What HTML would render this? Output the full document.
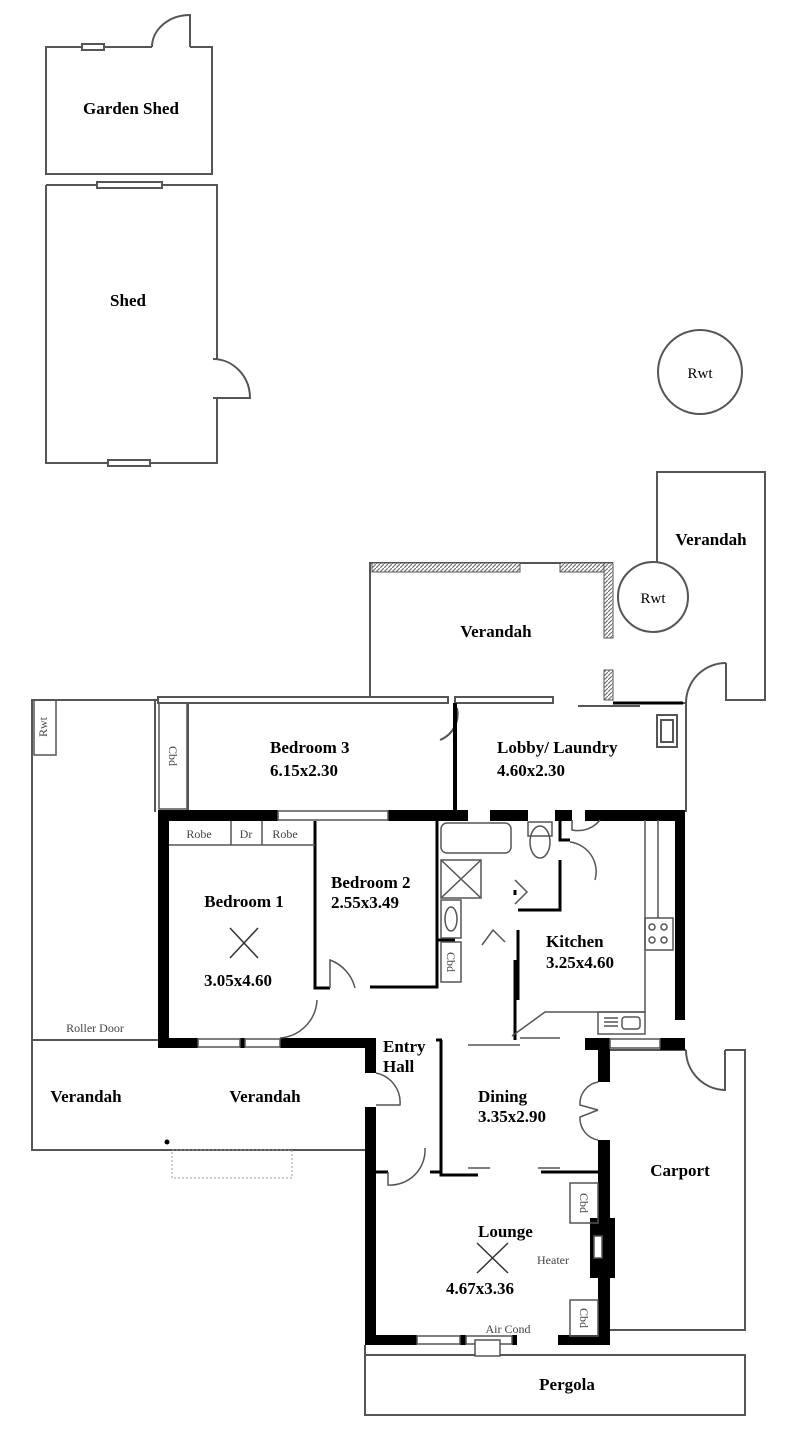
<!DOCTYPE html>
<html><head><meta charset="utf-8"><style>
html,body{margin:0;padding:0;background:#fff;}
svg{display:block}
text{font-family:"Liberation Serif",serif;font-weight:bold;fill:#000;}
.s{font-weight:normal;fill:#444;font-size:12px}
</style></head><body>
<svg width="800" height="1440" viewBox="0 0 800 1440" xmlns="http://www.w3.org/2000/svg">
<defs>
<pattern id="h" width="4" height="4" patternUnits="userSpaceOnUse"><rect width="4" height="4" fill="#fff"/><path d="M0 4L4 0" stroke="#777" stroke-width="1.2"/></pattern>
</defs>
<g fill="none" stroke="#555" stroke-width="2">
<path d="M152 47H46V174H212V47H190"/>
<path d="M190 47V15A38 32 0 0 0 152 47"/>
<rect x="82" y="44" width="22" height="6" fill="#fff"/>
<path d="M46 185H217V359M217 398V463H46V185"/>
<path d="M213 359A37 39 0 0 1 250 398H213"/>
<rect x="97" y="182" width="65" height="6" fill="#fff"/>
<rect x="108" y="460" width="42" height="6" fill="#fff"/>
<circle cx="700" cy="372" r="42"/>
<path d="M370 700V563H613"/>
<path d="M657 563V472H765V700H726V663"/>
<circle cx="653" cy="597" r="35"/>
<path d="M726 663A40 40 0 0 0 686 703V812"/>
<path d="M158 700H32V1150H158"/>
<path d="M32 1040H158"/>
<path d="M158 1150H365"/>
<path d="M610 1050H686M725 1050H745V1330H610"/>
<path d="M686 1050A40 40 0 0 0 725 1090V1050"/>
<rect x="365" y="1355" width="380" height="60"/>
<path d="M365 1345V1355"/>
</g>
<rect x="372" y="563" width="148" height="9" fill="url(#h)" stroke="#555"/>
<rect x="560" y="563" width="53" height="9" fill="url(#h)" stroke="#555"/>
<rect x="604" y="563" width="9" height="75" fill="url(#h)" stroke="#555"/>
<rect x="604" y="670" width="9" height="30" fill="url(#h)" stroke="#555"/>
<rect x="172" y="1150" width="120" height="28" fill="none" stroke="#999" stroke-dasharray="2 2"/>
<circle cx="167" cy="1142" r="2.5" fill="#000"/>
<g fill="none" stroke="#555" stroke-width="2">
<path d="M155 700V812M155 700H445M455 700H545M578 706H640"/>
<rect x="158" y="697" width="290" height="6" fill="#fff"/>
<rect x="455" y="697" width="98" height="6" fill="#fff"/>
<path d="M188 703V812"/>
<path d="M613 703H686"/>
<path d="M457 708A28 28 0 0 1 440 740"/>
<rect x="657" y="715" width="20" height="32"/>
<rect x="661" y="720" width="12" height="22"/>
</g>
<path d="M455 703V812" stroke="#000" stroke-width="4"/>
<path d="M613 703H683" stroke="#000" stroke-width="3"/>
<g fill="#000">
<rect x="158" y="810" width="120" height="11"/>
<rect x="388" y="810" width="80" height="11"/>
<rect x="490" y="810" width="38" height="11"/>
<rect x="555" y="810" width="17" height="11"/>
<rect x="585" y="810" width="100" height="11"/>
<rect x="158" y="810" width="11" height="238"/>
<rect x="675" y="810" width="10" height="210"/>
<rect x="158" y="1038" width="40" height="10"/>
<rect x="280" y="1038" width="85" height="10"/>
<rect x="240" y="1038" width="5" height="10"/>
<rect x="365" y="1038" width="11" height="35"/>
<rect x="365" y="1107" width="11" height="238"/>
<rect x="365" y="1335" width="52" height="10"/>
<rect x="460" y="1335" width="6" height="10"/>
<rect x="512" y="1335" width="5" height="10"/>
<rect x="558" y="1335" width="52" height="10"/>
<rect x="598" y="1040" width="12" height="42"/>
<rect x="598" y="1140" width="12" height="205"/>
<rect x="590" y="1218" width="25" height="60"/>
<rect x="660" y="1038" width="25" height="12"/>
<rect x="585" y="1038" width="25" height="12"/>
</g>
<g fill="none" stroke="#555" stroke-width="1.5">
<rect x="417" y="1336" width="43" height="8"/><rect x="466" y="1336" width="46" height="8"/>
<rect x="475" y="1340" width="25" height="16" fill="#fff"/>
<rect x="198" y="1039" width="42" height="8"/><rect x="245" y="1039" width="35" height="8"/>
<rect x="278" y="811" width="110" height="9"/>
<rect x="610" y="1039" width="50" height="9"/>
<rect x="594" y="1236" width="8" height="22" fill="#fff"/>
</g>
<g fill="none" stroke="#000" stroke-width="3">
<path d="M315 821V988H330M370 987H437V821"/>
<path d="M441 1040V1175H478M541 1172H598"/>
<path d="M436 1040H442"/>
<path d="M518 930V1000M515 895V890M515 960V1040"/>
<path d="M560 821V840H570M560 860V910H518"/>
<path d="M437 940H455"/>
<path d="M376 1172H388M430 1172H441"/>
</g>
<g fill="none" stroke="#555" stroke-width="1.5">
<path d="M169 845H315M231 821V845M262 821V845"/>
<path d="M330 988V960A40 40 0 0 1 355 988"/>
<path d="M280 1038A40 40 0 0 0 317 1000"/>
<path d="M376 1073A30 30 0 0 1 400 1105H376"/>
<path d="M388 1172V1185A35 35 0 0 0 425 1148"/>
<path d="M468 1045H520M520 1038H560"/>
<path d="M512 1036L545 1012H645"/>
<rect x="598" y="1012" width="47" height="22"/>
<rect x="622" y="1017" width="18" height="12" rx="3"/>
<path d="M604 1018H618M604 1022H618M604 1026H618"/>
<path d="M645 820V1012M658 820V918"/>
<rect x="645" y="918" width="28" height="32"/>
<circle cx="652" cy="927" r="3"/><circle cx="664" cy="927" r="3"/><circle cx="652" cy="940" r="3"/><circle cx="664" cy="940" r="3"/>
<rect x="441" y="823" width="70" height="30" rx="6"/>
<rect x="441" y="860" width="40" height="38"/><path d="M441 860L481 898M481 860L441 898"/>
<rect x="441" y="900" width="20" height="38"/><ellipse cx="451" cy="919" rx="6" ry="12"/>
<rect x="441" y="942" width="20" height="40"/>
<rect x="528" y="822" width="24" height="14"/><ellipse cx="540" cy="842" rx="10" ry="16"/>
<path d="M570 842A30 30 0 0 1 595 880M515 880L527 892L515 904"/>
<path d="M482 945L493 930L505 942"/>
<path d="M572 820V830A28 28 0 0 0 600 820"/>
<path d="M598 1082A22 22 0 0 0 580 1105L598 1110M598 1140A22 22 0 0 1 580 1117L598 1110"/>
<path d="M468 1168H490M538 1168H560"/>
<rect x="570" y="1183" width="28" height="40"/>
<rect x="570" y="1300" width="28" height="36"/>
<rect x="159" y="703" width="28" height="106"/>
<rect x="34" y="700" width="22" height="55"/>
</g>
<g stroke="#333" stroke-width="1.5" fill="none">
<path d="M230 928L258 958M258 928L230 958"/>
<path d="M477 1243L508 1273M508 1243L477 1273"/>
</g>
<text x="131" y="114" font-size="17" text-anchor="middle">Garden Shed</text>
<text x="128" y="306" font-size="17" text-anchor="middle">Shed</text>
<text x="700" y="378" font-size="15" text-anchor="middle" style="font-weight:normal">Rwt</text>
<text x="653" y="603" font-size="15" text-anchor="middle" style="font-weight:normal">Rwt</text>
<text x="711" y="545" font-size="17" text-anchor="middle">Verandah</text>
<text x="496" y="637" font-size="17" text-anchor="middle">Verandah</text>
<text x="270" y="753" font-size="17">Bedroom 3</text>
<text x="270" y="776" font-size="17">6.15x2.30</text>
<text x="497" y="753" font-size="17">Lobby/ Laundry</text>
<text x="497" y="776" font-size="17">4.60x2.30</text>
<text x="331" y="888" font-size="17">Bedroom 2</text>
<text x="331" y="908" font-size="17">2.55x3.49</text>
<text x="244" y="907" font-size="17" text-anchor="middle">Bedroom 1</text>
<text x="238" y="986" font-size="17" text-anchor="middle">3.05x4.60</text>
<text x="546" y="947" font-size="17">Kitchen</text>
<text x="546" y="968" font-size="17">3.25x4.60</text>
<text x="383" y="1052" font-size="17">Entry</text>
<text x="383" y="1072" font-size="17">Hall</text>
<text x="478" y="1102" font-size="17">Dining</text>
<text x="478" y="1122" font-size="17">3.35x2.90</text>
<text x="680" y="1176" font-size="17" text-anchor="middle">Carport</text>
<text x="478" y="1237" font-size="17">Lounge</text>
<text x="446" y="1294" font-size="17">4.67x3.36</text>
<text x="567" y="1390" font-size="17" text-anchor="middle">Pergola</text>
<text x="86" y="1102" font-size="17" text-anchor="middle">Verandah</text>
<text x="265" y="1102" font-size="17" text-anchor="middle">Verandah</text>
<text x="95" y="1032" class="s" text-anchor="middle">Roller Door</text>
<text x="537" y="1264" class="s">Heater</text>
<text x="508" y="1333" class="s" text-anchor="middle">Air Cond</text>
<text x="199" y="838" class="s" text-anchor="middle" font-size="11">Robe</text>
<text x="246" y="838" class="s" text-anchor="middle" font-size="11">Dr</text>
<text x="285" y="838" class="s" text-anchor="middle" font-size="11">Robe</text>
<text class="s" font-size="11" transform="translate(169 756) rotate(90)" text-anchor="middle">Cbd</text>
<text class="s" font-size="11" transform="translate(47 727) rotate(-90)" text-anchor="middle">Rwt</text>
<text class="s" font-size="11" transform="translate(447 962) rotate(90)" text-anchor="middle">Cbd</text>
<text class="s" font-size="11" transform="translate(580 1203) rotate(90)" text-anchor="middle">Cbd</text>
<text class="s" font-size="11" transform="translate(580 1318) rotate(90)" text-anchor="middle">Cbd</text>
</svg>
</body></html>
